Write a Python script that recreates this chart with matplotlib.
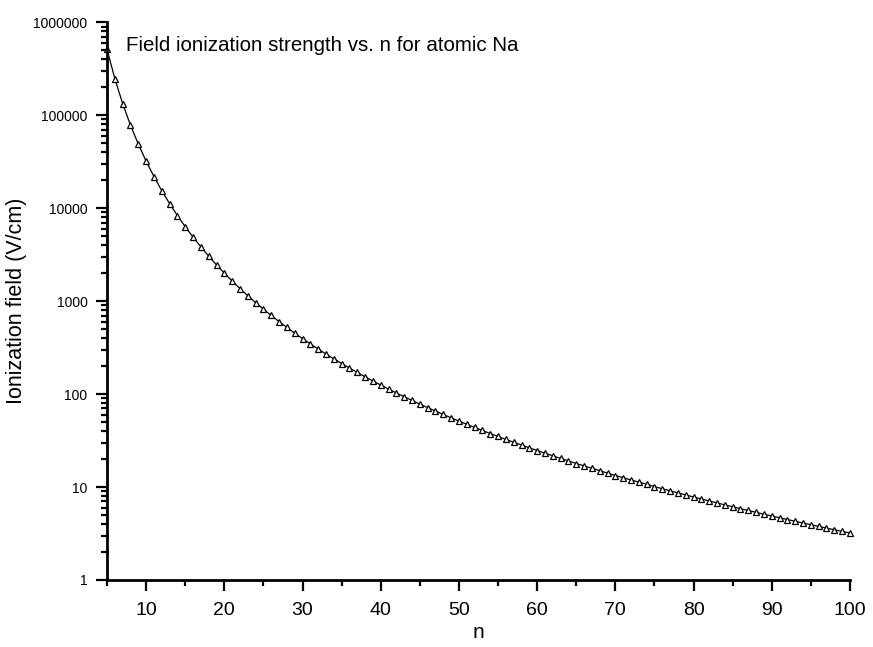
import matplotlib
matplotlib.use("Agg")
import matplotlib.pyplot as plt
from matplotlib.ticker import LogLocator, MultipleLocator, FixedLocator, FixedFormatter

plt.rcParams['font.family'] = ['Liberation Sans', 'DejaVu Sans']

# principal quantum number
n_values = list(range(5, 101))

# ionization field (V/cm)
field = [
    512000, 247000, 133000, 78100, 48800, 32000, 21900, 15400, 11200, 8330,
    6320, 4883, 3831, 3048, 2455, 2000, 1645, 1366, 1143, 964.5,
    819.2, 700.3, 602.1, 520.6, 452.4, 395.1, 346.5, 305.2, 269.8, 239.5,
    213.2, 190.5, 170.7, 153.5, 138.3, 125.0, 113.2, 102.8, 93.6, 85.4,
    78.0, 71.5, 65.6, 60.3, 55.5, 51.2, 47.3, 43.8, 40.6, 37.6,
    35.0, 32.5, 30.3, 28.3, 26.4, 24.7, 23.1, 21.7, 20.3, 19.1,
    17.9, 16.9, 15.9, 15.0, 14.1, 13.3, 12.6, 11.9, 11.3, 10.7,
    10.1, 9.59, 9.10, 8.65, 8.22, 7.81, 7.43, 7.08, 6.74, 6.43,
    6.13, 5.85, 5.59, 5.34, 5.10, 4.88, 4.67, 4.47, 4.28, 4.10,
    3.93, 3.77, 3.61, 3.47, 3.33, 3.20,
]

y_ticks = [1, 10, 100, 1000, 10000, 100000, 1000000]
y_ticklabels = ['1', '10', '100', '1000', '10000', '100000', '1000000']
x_ticks = [10, 20, 30, 40, 50, 60, 70, 80, 90, 100]

fig = plt.figure(figsize=(8.73, 6.47), dpi=100)
ax = fig.add_axes([0.1226, 0.1036, 0.851, 0.862])

ax.plot(n_values, field, color='black', linewidth=0.9,
        marker='^', markersize=5, markerfacecolor='white',
        markeredgecolor='black', markeredgewidth=0.9, clip_on=False)

ax.set_yscale('log')
ax.set_xlim(5, 100)
ax.set_ylim(1, 1000000)

ax.yaxis.set_major_locator(FixedLocator(y_ticks))
ax.yaxis.set_major_formatter(FixedFormatter(y_ticklabels))
ax.yaxis.set_minor_locator(LogLocator(base=10, subs=range(2, 10), numticks=20))
ax.yaxis.set_minor_formatter(plt.NullFormatter())
ax.xaxis.set_major_locator(FixedLocator(x_ticks))
ax.xaxis.set_minor_locator(MultipleLocator(5))

for side in ['top', 'right']:
    ax.spines[side].set_visible(False)
for side in ['left', 'bottom']:
    ax.spines[side].set_linewidth(2)

ax.tick_params(axis='both', which='major', direction='out', length=8, width=1.6)
ax.tick_params(axis='both', which='minor', direction='out', length=4, width=1.6)
ax.tick_params(axis='x', which='major', labelsize=14, pad=8)
ax.tick_params(axis='y', which='major', labelsize=10, pad=6)

ax.set_xlabel('n', fontsize=15, labelpad=3)
ax.set_ylabel('Ionization field (V/cm)', fontsize=15.5, labelpad=5)

ax.text(0.025, 0.958, 'Field ionization strength vs. n for atomic Na',
        transform=ax.transAxes, fontsize=14.8, ha='left', va='center')

fig.savefig('out.png', dpi=100)
